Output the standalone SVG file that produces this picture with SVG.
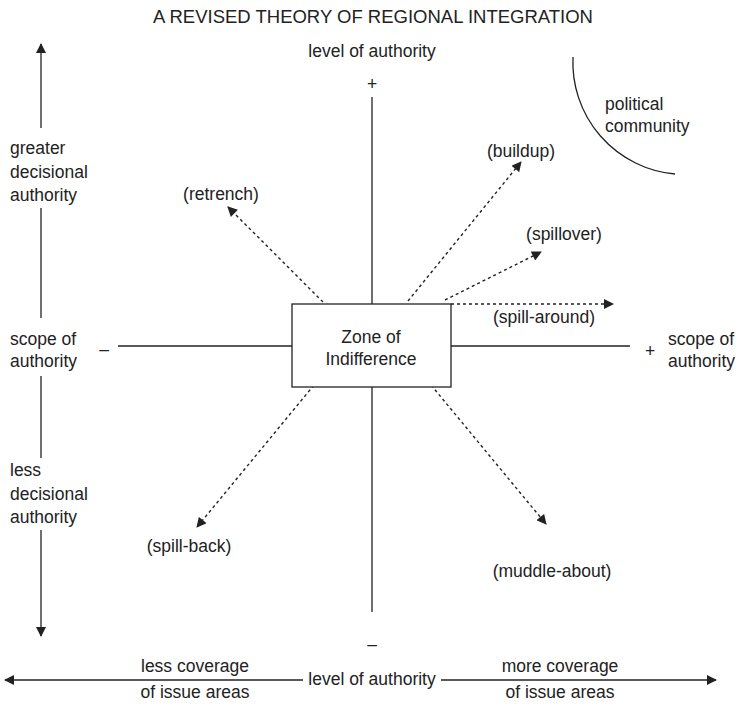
<svg xmlns="http://www.w3.org/2000/svg" width="742" height="704" viewBox="0 0 742 704">
<defs>
<marker id="ah" viewBox="0 0 10 10" refX="9" refY="5" markerWidth="11" markerHeight="10" markerUnits="userSpaceOnUse" orient="auto">
<path d="M0,0 L10,5 L0,10 Z" fill="#222"/>
</marker>
<style>
text{font-family:"Liberation Sans",Arial,sans-serif;font-size:17.5px;fill:#222}
.c{text-anchor:middle}
.ax{stroke:#222;stroke-width:1.3;fill:none}
.d{stroke:#222;stroke-width:1.4;fill:none;stroke-dasharray:3,3;marker-end:url(#ah)}
</style>
</defs>
<rect width="742" height="704" fill="#fff"/>
<text class="c" x="373" y="23" style="font-size:18.5px">A REVISED THEORY OF REGIONAL INTEGRATION</text>
<g id="connectors">
<line class="ax" x1="372" y1="97" x2="372" y2="304"/>
<line class="ax" x1="372" y1="387" x2="372" y2="612"/>
<line class="ax" x1="118" y1="346" x2="292" y2="346"/>
<line class="ax" x1="451" y1="346" x2="630" y2="346"/>
<line class="d" x1="451" y1="304" x2="613" y2="304"/>
<line class="d" x1="323" y1="302" x2="228" y2="207"/>
<line class="d" x1="408" y1="301" x2="521" y2="162"/>
<line class="d" x1="445" y1="300" x2="541" y2="252"/>
<line class="d" x1="333" y1="362" x2="197" y2="527"/>
<line class="d" x1="412" y1="362" x2="546" y2="524"/>
<line class="ax" x1="41" y1="128" x2="41" y2="44" marker-end="url(#ah)"/>
<line class="ax" x1="41" y1="208" x2="41" y2="318"/>
<line class="ax" x1="41" y1="376" x2="41" y2="458"/>
<line class="ax" x1="41" y1="530" x2="41" y2="636" marker-end="url(#ah)"/>
<line class="ax" x1="303" y1="680" x2="5" y2="680" marker-end="url(#ah)"/>
<line class="ax" x1="441" y1="680" x2="716" y2="680" marker-end="url(#ah)"/>
<path class="ax" d="M573,57 A112,112 0 0 0 675,174"/>
</g>
<g id="zone">
<rect x="292" y="304" width="159" height="83" fill="#fff" stroke="#222" stroke-width="1.3"/>
<text class="c" x="371" y="343">Zone of</text>
<text class="c" x="371" y="365">Indifference</text>
</g>
<g id="labels">
<text class="c" x="372" y="57">level of authority</text>
<text class="c" x="372" y="90">+</text>
<text class="c" x="372" y="650">–</text>
<text class="c" x="521" y="157">(buildup)</text>
<text class="c" x="564" y="240">(spillover)</text>
<text class="c" x="544" y="323">(spill-around)</text>
<text class="c" x="221" y="200">(retrench)</text>
<text class="c" x="189" y="552">(spill-back)</text>
<text class="c" x="552" y="577">(muddle-about)</text>
<text x="605" y="110">political</text>
<text x="605" y="132">community</text>
<text x="10" y="154">greater</text>
<text x="10" y="178">decisional</text>
<text x="10" y="201">authority</text>
<text x="10" y="345">scope of</text>
<text x="10" y="367">authority</text>
<text class="c" x="104" y="355">–</text>
<text x="10" y="476">less</text>
<text x="10" y="500">decisional</text>
<text x="10" y="523">authority</text>
<text class="c" x="650" y="357">+</text>
<text x="668" y="345">scope of</text>
<text x="668" y="367">authority</text>
<text class="c" x="195" y="672">less coverage</text>
<text class="c" x="195" y="698">of issue areas</text>
<text class="c" x="372" y="685">level of authority</text>
<text class="c" x="560" y="672">more coverage</text>
<text class="c" x="560" y="698">of issue areas</text>
</g>
</svg>
